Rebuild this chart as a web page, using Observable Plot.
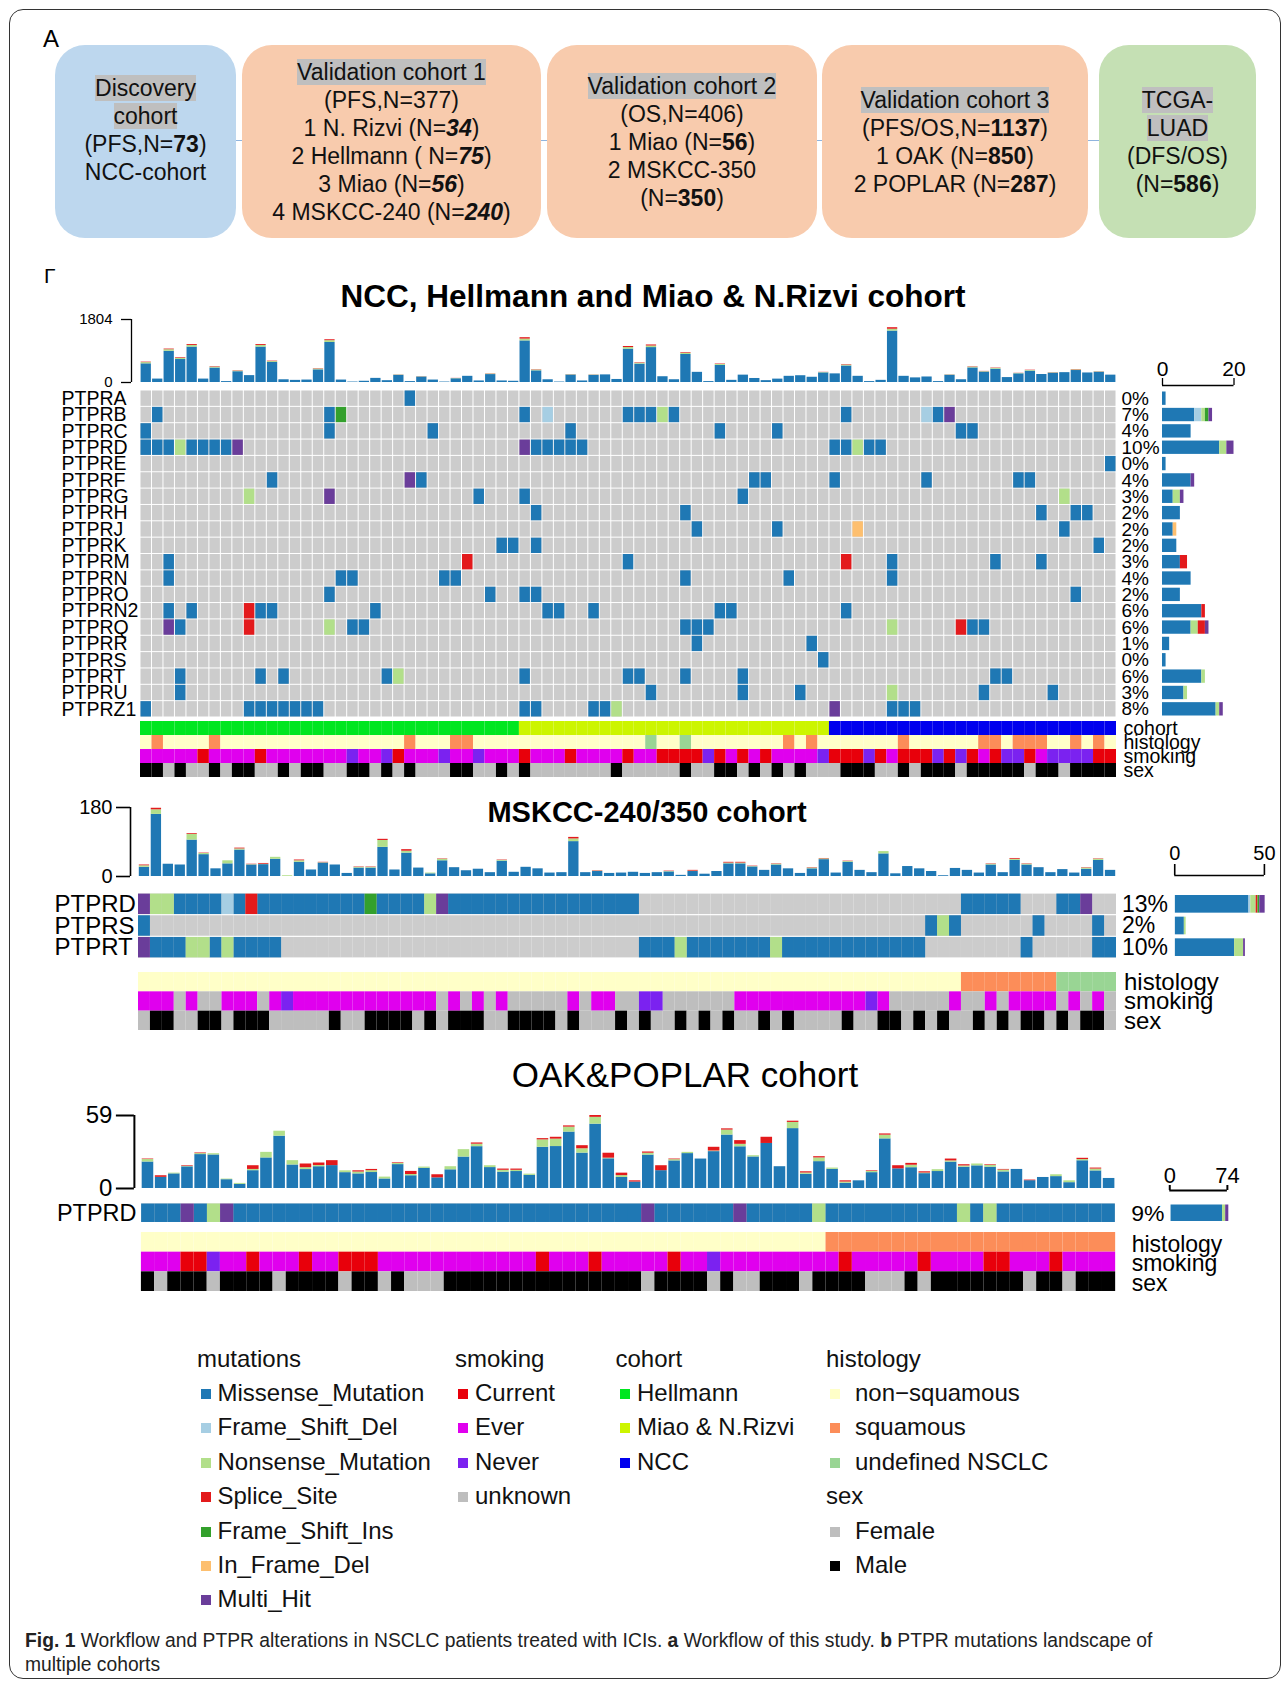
<!DOCTYPE html>
<html><head><meta charset="utf-8">
<script src="https://cdn.jsdelivr.net/npm/d3@7"></script>
<script src="https://cdn.jsdelivr.net/npm/@observablehq/plot@0.6"></script>
<style>
body{margin:0;background:#fff;}
#fig{position:relative;width:1287px;height:1683px;background:#fff;font-family:'Liberation Sans',Arial,Helvetica,sans-serif;color:#111;overflow:hidden}
.border{position:absolute;left:9px;top:9px;width:1272px;height:1670px;border:1.6px solid #333;border-radius:14px;box-sizing:border-box}
.conn{position:absolute;left:236px;top:140px;width:863px;border-top:1.5px solid #8fb4de}
.box{position:absolute;top:45px;height:193px;border-radius:30px;display:flex;flex-direction:column;justify-content:center;align-items:center;font-size:23px;line-height:28px;text-align:center;color:#111;box-sizing:border-box;white-space:nowrap}
.hl{background:#bfbfbf}
.lg{position:absolute;font-size:24px;line-height:28px;white-space:nowrap;color:#111}
.sq{position:absolute;width:10px;height:10px}
.cap{position:absolute;left:25px;top:1629px;font-size:19.3px;line-height:24px;color:#222;white-space:nowrap}
</style></head>
<body><div id="fig">
<div class="border"></div>
<div class="conn"></div>
<div class="box" style="left:55px;width:181px;background:#bdd7ee;padding-bottom:24px">
<div><span class="hl">Discovery</span></div><div><span class="hl">cohort</span></div><div>(PFS,N=<b>73</b>)</div><div>NCC-cohort</div></div>
<div class="box" style="left:242px;width:299px;background:#f8cbad">
<div><span class="hl">Validation cohort 1</span></div><div>(PFS,N=377)</div><div>1 N. Rizvi (N=<b><i>34</i></b>)</div><div>2 Hellmann ( N=<b><i>75</i></b>)</div><div>3 Miao (N=<b><i>56</i></b>)</div><div>4 MSKCC-240 (N=<b><i>240</i></b>)</div></div>
<div class="box" style="left:547px;width:270px;background:#f8cbad">
<div><span class="hl">Validation cohort 2</span></div><div>(OS,N=406)</div><div>1 Miao (N=<b>56</b>)</div><div>2 MSKCC-350</div><div>(N=<b>350</b>)</div></div>
<div class="box" style="left:822px;width:266px;background:#f8cbad">
<div><span class="hl">Validation cohort 3</span></div><div>(PFS/OS,N=<b>1137</b>)</div><div>1 OAK (N=<b>850</b>)</div><div>2 POPLAR (N=<b>287</b>)</div></div>
<div class="box" style="left:1099px;width:157px;background:#c5e0b4">
<div><span class="hl">TCGA-</span></div><div><span class="hl">LUAD</span></div><div>(DFS/OS)</div><div>(N=<b>586</b>)</div></div>
<div class="cap"><b>Fig. 1</b> Workflow and PTPR alterations in NSCLC patients treated with ICIs. <b>a</b> Workflow of this study. <b>b</b> PTPR mutations landscape of<br>multiple cohorts</div>
</div>
<script>
// ---------------- DATA ----------------
const mutTypes = ["Missense_Mutation","Frame_Shift_Del","Nonsense_Mutation","Splice_Site","Frame_Shift_Ins","In_Frame_Del","Multi_Hit"];
const mutCodes = ["M","D","N","S","I","F","H"];
const mutColors = ["#1f78b4","#a6cee3","#b2df8a","#e31a1c","#33a02c","#fdbf6f","#6a3d9a"];
const smokingCats = ["Current","Ever","Never","unknown"];
const smokingCodes = ["C","E","N","U"];
const smokingColors = ["#e8000b","#e000ee","#7b22f0","#bebebe"];
const cohortCats = ["Hellmann","Miao & N.Rizvi","NCC"];
const cohortColors = ["#00e620","#ccf500","#0000ee"];
const histCats = ["non\u2212squamous","squamous","undefined NSCLC"];
const histCodes = ["n","s","u"];
const histColors = ["#ffffc8","#fc8d59","#99d594"];
const sexCats = ["Female","Male"];
const sexCodes = ["f","m"];
const sexColors = ["#bebebe","#000000"];

// Cohort 1: NCC, Hellmann and Miao & N.Rizvi (85 samples)
const genes1 = ["PTPRA","PTPRB","PTPRC","PTPRD","PTPRE","PTPRF","PTPRG","PTPRH","PTPRJ","PTPRK","PTPRM","PTPRN","PTPRO","PTPRN2","PTPRQ","PTPRR","PTPRS","PTPRT","PTPRU","PTPRZ1"];
const muts1 = [
 "M:23",
 "M:1,16,33,42-44,46,61,69;D:35,68;N:45;I:17;H:70",
 "M:0,16,25,37,50,55,71,72",
 "M:0-2,4-7,34-38,60,61,63,64;N:3,62;H:8,33",
 "M:84",
 "M:11,24,53,54,60,68,76,77;H:23",
 "M:29,33,52;N:9,80;H:16",
 "M:34,47,78,81,82",
 "M:48,55,80;F:62",
 "M:31,32,34,83",
 "M:2,42,65,74,78;S:28,61",
 "M:2,17,18,26,27,47,56,65",
 "M:16,30,33,34,81",
 "M:2,4,10,11,20,35,36,39,50,51,61;S:9",
 "M:3,18,19,47-49,72,73;N:16,65;S:9,71;H:2",
 "M:48,58",
 "M:59",
 "M:3,10,12,21,33,42,43,47,52,74,75;N:22",
 "M:3,44,52,57,73,79;N:65",
 "M:0,9-15,33,34,39,40,65-67;N:41;H:60"
];
const pct1 = ["0%","7%","4%","10%","0%","4%","3%","2%","2%","2%","3%","4%","2%","6%","6%","1%","0%","6%","3%","8%"];
const tmbTotal1 = [583,98,957,711,1086,98,454,26,336,197,1086,612,78,61,70,395,1224,70,13,35,
 118,52,218,26,168,70,13,118,177,44,247,44,35,1283,365,78,13,227,44,218,
 218,87,1031,566,1075,165,79,855,291,26,529,62,211,115,53,97,177,194,150,291,
 247,512,177,26,62,1569,177,132,158,26,220,79,450,318,414,141,264,352,229,282,
 282,370,273,309,211];
const tmbTop1 = [[0,35,13],[2,45,18],[3,35,18],[4,45,26],[6,26,13],[8,18,9],[10,45,26],[11,26,13],[15,22,10],[16,52,26],[22,9,4],[24,7,4],[27,7,4],[30,13,7],[33,52,40],[34,22,9],[37,9,4],[39,9,4],[42,45,30],[43,26,13],[44,45,30],[47,35,18],[50,26,13],[59,10,5],[61,26,13],[65,52,44],[70,9,4],[72,22,10],[73,13,7],[74,22,10],[76,10,5],[77,18,9],[79,10,5],[81,18,9],[83,10,5]];
const cohort1 = [["Hellmann",33],["Miao & N.Rizvi",27],["NCC",25]];
const histology1 = "nsnnnnsnnn"+"nnnnnnnnnn"+"nnnsnnnssn"+"nnnnnnnnnn"+"nnnnunnunn"+"nnnnnnsnsn"+"nnnnnnsnnn"+"nnnssnsssn"+"nsnsn";
const smoking1 = "EEEEECEEEE"+"CEEEEEEENE"+"ENCEEENEEN"+"EEECEEECEE"+"EECEECCCCN"+"CECECEEEEN"+"CCCNCECCCN"+"CNCECNNCEN"+"NNNCC";
const sex1 = "mmfmffmfmm"+"ffmfmmffmm"+"fmfmfffmmf"+"fmfmffffff"+"fmfffffmff"+"mmfmfmfmff"+"fmmmffmfmm"+"mfmmmmmfmm"+"fmmmm";

// Cohort 2: MSKCC-240/350 (82 samples)
const genes2 = ["PTPRD","PTPRS","PTPRT"];
const muts2 = [
 "M:3-6,8,10-18,20-23,26-41,69-73,77,78;N:1,2,24;D:7;S:9;I:19;H:0,25,79",
 "M:0,66,68,75,80;N:67",
 "M:1-3,6,8-11,42-44,46-52,54-65,74,80,81;N:4,5,7,45,53;H:0"
];
const pct2 = ["13%","2%","10%"];
const tmbTotal2 = [30,178,32,30,112,61,20,41,74,32,34,50,2,43,17,37,30,8,25,25,
 97,17,70,22,9,46,23,15,19,10,43,11,24,20,9,10,102,10,15,8,
 9,11,8,10,14,3,16,6,13,37,37,27,16,33,20,8,23,47,9,40,
 16,10,65,7,26,20,13,2,21,16,9,33,10,47,33,23,10,18,9,23,46,16];
const tmbTop2 = [[0,4,2],[1,12,4],[4,15,2],[5,3,1],[7,8,0],[8,3,2],[9,1,1],[10,1,2],[11,5,0],[12,2,0],[13,4,2],[15,1,1],[18,2,1],[19,2,1],[20,18,3],[22,5,4],[24,2,0],[25,4,1],[30,2,1],[36,7,4],[38,1,1],[44,1,1],[46,1,2],[49,2,2],[50,2,2],[51,1,1],[53,2,1],[56,2,1],[57,2,1],[59,2,1],[62,6,0],[71,2,1],[73,3,2],[74,2,1],[79,3,1],[80,3,1]];
const histology2 = "nnnnnnnnnn"+"nnnnnnnnnn"+"nnnnnnnnnn"+"nnnnnnnnnn"+"nnnnnnnnnn"+"nnnnnnnnnn"+"nnnnnnnnn"+"ssssssss"+"uuuuu";
const smoking2 = "EEEUEUUEEE"+"UENEEEEEEE"+"EEEEEUEUEU"+"EUUUUUEUEE"+"UUNNUUUUUU"+"EEEEEEEEEE"+"ENEUUUUUEU"+"UEUEEEEUEU"+"EU";
const sex2 = "fmmffmmfmm"+"mfffffmffm"+"mmmfmfmmmf"+"fmmmmfmfff"+"mfmffmfmfm"+"ffmfmffffm"+"ffmmfmfmff"+"mfmfmmfmfm"+"mf";

// Cohort 3: OAK & POPLAR (74 samples)
const genes3 = ["PTPRD"];
const muts3 = ["M:0-2,4,7-37,39-44,46-50,52-61,63,65-73;N:5,51,62,64;H:3,6,38,45"];
const pct3 = ["9%"];
const tmbTotal3 = [23.8,10.3,12.4,18.4,28.7,28.1,7.6,4.1,18.4,29.2,46.3,22.5,19.8,20.6,22.5,14.3,14.3,15.4,9.2,20.8,
 13.8,17.3,11.1,17.6,31.4,36.8,18.4,15.7,15.7,11.6,40.3,41.4,50.6,34.6,59,28.5,12.4,6.2,29.5,18.4,
 23.8,29.2,23.8,33.3,48.2,38.7,26.5,41.4,17.6,54.4,13.5,25.7,16.5,6.2,6.2,14.3,44.1,18.4,20.3,13.5,
 15.2,23.8,19.2,19.8,19.2,15.4,15.4,6.8,8.9,11.1,6.2,24.4,16.5,8.1];
const tmbTop3 = [[0,2,0.4],[1,0,1.3],[2,0.6,0],[3,0.4,0.5],[4,0.8,0.5],[5,1,0],[6,0.5,0],[7,0.8,0],[8,1,3],[9,4.5,0],[10,4,0],[11,3.5,0],[12,1.5,3],[13,1,2],[14,0,4],[15,1.5,0],[16,1.5,1],[17,1.5,1],[18,1.5,0],[19,1,0.5],[20,1,2.5],[21,1,0],[22,0,2.5],[23,2.5,0],[24,6,0],[25,2,1],[26,1.5,0],[27,1.5,1],[28,1,1],[29,1,0],[30,6,1],[31,6,1.5],[32,4,1],[33,3.5,2.5],[34,5.5,1.5],[35,0.5,4],[36,1.5,2],[37,0,1],[38,1.5,1],[39,0,4],[40,1,0.5],[41,1,0],[43,0.5,3],[44,4,1],[45,2,3],[46,1,0],[47,0,5],[49,5,1],[50,1,1],[51,3,1],[52,1,0],[53,1,1],[55,1,0.5],[56,3,1],[57,0,2.5],[58,2,1.5],[59,0.5,1],[60,1.5,0],[61,1,1.5],[62,1,1],[63,1.5,0],[64,1.5,0.5],[65,1.5,0.5],[67,0,0.5],[69,1.5,0],[70,1.5,0],[71,1,1],[72,1.5,0.8]];
const histology3 = "nnnnnnnnnn"+"nnnnnnnnnn"+"nnnnnnnnnn"+"nnnnnnnnnn"+"nnnnnnnnnn"+"nn"+"ssssssssss"+"ssssssssss"+"ss";
const smoking3 = "EEECCNEECE"+"EECEECCCEE"+"EEEEEEEEEE"+"CEEECEEEEE"+"CEENEEEEEE"+"EEECEEEEEC"+"EEEECCEEEC"+"EEEE";
const sex3 = "mfmmmfmmmm"+"fmmmmfmmfm"+"fffmmmmmmm"+"mmmmmmmmfm"+"mmmfmffmmm"+"fmmmmfffmf"+"mmmmmmmfmm"+"fmmm";

// ---------------- HELPERS ----------------
const fig = document.getElementById("fig");
const FONT = "'Liberation Sans', Arial, Helvetica, sans-serif";
const STYLE = {background:"none", overflow:"visible", fontFamily: FONT, color:"#000"};
const mutColor = Object.fromEntries(mutCodes.map((c,i)=>[c, mutColors[i]]));
const annColor = {
  cohort: Object.fromEntries(cohortCats.map((c,i)=>[c, cohortColors[i]])),
  histology: Object.fromEntries(histCodes.map((c,i)=>[c, histColors[i]])),
  smoking: Object.fromEntries(smokingCodes.map((c,i)=>[c, smokingColors[i]])),
  sex: Object.fromEntries(sexCodes.map((c,i)=>[c, sexColors[i]]))
};
function place(el, top){ el.style.position="absolute"; el.style.left="0px"; el.style.top=top+"px"; fig.appendChild(el); }
function parseMuts(str){
  const out=[];
  for(const part of str.split(";")){ if(!part) continue; const [code,list]=part.split(":");
    for(const tok of list.split(",")){ const [a,b]=tok.split("-").map(Number); for(let i=a;i<=(isNaN(b)?a:b);i++) out.push({i,code}); } }
  return out;
}
function expandRuns(runs){ const out=[]; runs.forEach(([v,n])=>{ for(let k=0;k<n;k++) out.push(v); }); return out; }

function onco(d, g){
  const N = d.N;
  // TMB stacked bars
  const tmbRows=[];
  d.tmbTotal.forEach((v,i)=>{ const t=d.tmbTop.find(r=>r[0]===i)||[i,0,0];
    tmbRows.push({i,code:"M",v:Math.max(0,v-t[1]-t[2])},{i,code:"N",v:t[1]},{i,code:"S",v:t[2]}); });
  place(Plot.plot({
    width:g.xR, height:g.tmb[1]-g.tmb[0], marginLeft:g.xL, marginRight:0, marginTop:0, marginBottom:0,
    style:STYLE, x:{domain:[0,N], axis:null}, y:{domain:[0,d.tmbMax], axis:null}, color:{type:"identity"},
    marks:[
      Plot.rectY(tmbRows,{x1:"i", x2:r=>r.i+1, y:"v", fill:r=>mutColor[r.code], insetLeft:g.barInset, insetRight:g.barInset}),
      Plot.ruleX([0],{dx:-g.spine, stroke:"#000", strokeWidth:g.axW}),
      Plot.axisY({ticks:[0,d.tmbMax], tickSize:g.tick, dx:-g.spine, tickPadding:g.tmbPad, fontSize:g.tmbFs, tickFormat:v=>String(v), strokeWidth:g.axW, stroke:"#000", label:null})
    ]}), g.tmb[0]);

  // mutation grid
  const bg=[], cells=[];
  d.genes.forEach((gene,k)=>{ for(let i=0;i<N;i++) bg.push({gene,i});
    parseMuts(d.muts[k]).forEach(m=>cells.push({gene,i:m.i,code:m.code})); });
  place(Plot.plot({
    width:g.xR, height:g.grid[1]-g.grid[0], marginLeft:g.xL, marginRight:0, marginTop:0, marginBottom:0,
    style:STYLE,
    x:{type:"band", domain:d3.range(N), padding:0, round:false, axis:null},
    y:{type:"band", domain:d.genes, padding:0, round:false, axis:null},
    color:{type:"identity"},
    marks:[
      Plot.cell(bg,{x:"i", y:"gene", fill:"#cccccc", insetLeft:g.cellX, insetRight:g.cellX, insetTop:g.cellY, insetBottom:g.cellY}),
      Plot.cell(cells,{x:"i", y:"gene", fill:r=>mutColor[r.code], insetLeft:g.cellX, insetRight:g.cellX, insetTop:g.cellY, insetBottom:g.cellY}),
      Plot.text(d.genes,{y:v=>v, text:v=>v, frameAnchor:"left", textAnchor:"start", dx:g.geneX-g.xL, fontSize:g.geneFs}),
      Plot.text(d.genes.map((gene,k)=>({gene,p:d.pct[k]})),{y:"gene", text:"p", frameAnchor:"right", textAnchor:"start", dx:g.pctDx, fontSize:g.pctFs})
    ]}), g.grid[0]);

  // right bar chart
  const counts=[];
  d.genes.forEach(gene=>{ mutCodes.forEach(code=>{ const n=cells.filter(c=>c.gene===gene&&c.code===code).length; if(n>0) counts.push({gene,code,n}); }); });
  place(Plot.plot({
    width:g.rb[1], height:g.grid[1]-g.grid[0], marginLeft:g.rb[0], marginRight:0, marginTop:0, marginBottom:0,
    style:STYLE, x:{domain:[0,d.axMax], axis:null},
    y:{type:"band", domain:d.genes, padding:0, round:false, axis:null}, color:{type:"identity"},
    marks:[Plot.barX(counts,{y:"gene", x:"n", fill:r=>mutColor[r.code], insetTop:g.rbInset, insetBottom:g.rbInset})]
  }), g.grid[0]);

  // right axis
  place(Plot.plot({
    width:g.rb[1], height:g.axY[1]-g.axY[0], marginLeft:g.rb[0], marginRight:0, marginTop:0, marginBottom:0,
    style:STYLE, x:{domain:[0,d.axMax], axis:null}, y:{domain:[0,1], axis:null},
    marks:[
      Plot.ruleY([0],{stroke:"#000", strokeWidth:g.axW}),
      Plot.ruleX([0,d.axMax],{stroke:"#000", strokeWidth:g.axW}),
      Plot.text([0,d.axMax],{x:v=>v, text:v=>String(v), frameAnchor:"top", lineAnchor:"bottom", dy:-g.axLab, fontSize:g.rbFs})
    ]}), g.axY[0]);

  // annotation tracks
  const ann=[];
  d.ann.forEach(([name,vals])=>{ vals.forEach((v,i)=>ann.push({name,i,color:annColor[name][v]})); });
  const annNames=d.ann.map(a=>a[0]);
  place(Plot.plot({
    width:g.xR, height:g.ann[1]-g.ann[0], marginLeft:g.xL, marginRight:0, marginTop:0, marginBottom:0,
    style:STYLE,
    x:{type:"band", domain:d3.range(N), padding:0, round:false, axis:null},
    y:{type:"band", domain:annNames, padding:0, round:false, axis:null}, color:{type:"identity"},
    marks:[
      Plot.cell(ann,{x:"i", y:"name", fill:"color"}),
      Plot.text(annNames,{y:v=>v, text:v=>v, frameAnchor:"right", textAnchor:"start", dx:g.annDx, dy:g.annDy, fontSize:g.annFs})
    ]}), g.ann[0]);
}

// ---------------- DRAW ----------------
onco({N:85, genes:genes1, muts:muts1, pct:pct1, tmbTotal:tmbTotal1, tmbTop:tmbTop1, tmbMax:1804, axMax:20,
  ann:[["cohort",expandRuns(cohort1)],["histology",[...histology1]],["smoking",[...smoking1]],["sex",[...sex1]]]},
 {xL:140, xR:1116, tmb:[319,382], grid:[390,717], ann:[721,777], rb:[1162,1233.5], axY:[378,385],
  spine:9, tick:10, axW:1.3, tmbFs:15, tmbPad:9, geneX:61, geneFs:19.5, pctDx:5, pctFs:19, annFs:19.5, annDx:7, annDy:0, rbFs:21, axLab:3,
  cellX:0.5, cellY:0.5, rbInset:1.5, barInset:0.6});

onco({N:82, genes:genes2, muts:muts2, pct:pct2, tmbTotal:tmbTotal2, tmbTop:tmbTop2, tmbMax:180, axMax:50,
  ann:[["histology",[...histology2]],["smoking",[...smoking2]],["sex",[...sex2]]]},
 {xL:138, xR:1116, tmb:[807,876], grid:[893,958], ann:[972,1030], rb:[1175,1264.8], axY:[864,875],
  spine:8, tick:14, axW:1.6, tmbFs:20, tmbPad:4, geneX:54, geneFs:24, pctDx:5.5, pctFs:23, annFs:24, annDx:7.5, annDy:0, rbFs:20, axLab:5,
  cellX:0, cellY:0.6, rbInset:2, barInset:0.8});

onco({N:74, genes:genes3, muts:muts3, pct:pct3, tmbTotal:tmbTotal3, tmbTop:tmbTop3, tmbMax:59, axMax:74,
  ann:[["histology",[...histology3]],["smoking",[...smoking3]],["sex",[...sex3]]]},
 {xL:140.8, xR:1115.3, tmb:[1115,1188], grid:[1203,1222.5], ann:[1232,1291], rb:[1171,1228.8], axY:[1185,1190],
  spine:7, tick:18, axW:2, tmbFs:24, tmbPad:4, geneX:56, geneFs:23.5, pctDx:16, pctFs:23, annFs:23, annDx:16, annDy:2, rbFs:22, axLab:3,
  cellX:0, cellY:0.5, rbInset:1.5, barInset:0.8});

// titles and panel letters
const ov = d3.create("svg").attr("width",1287).attr("height",1683)
  .style("position","absolute").style("left","0px").style("top","0px").style("pointer-events","none")
  .style("font-family",FONT);
ov.append("text").attr("x",43).attr("y",47).attr("font-size",24).text("A");
ov.append("text").attr("x",44).attr("y",283).attr("font-size",21).text("\u0393");
ov.append("text").attr("x",653).attr("y",307).attr("text-anchor","middle").attr("font-size",31.5).attr("font-weight","bold").text("NCC, Hellmann and Miao & N.Rizvi cohort");
ov.append("text").attr("x",647).attr("y",822).attr("text-anchor","middle").attr("font-size",29).attr("font-weight","bold").text("MSKCC-240/350 cohort");
ov.append("text").attr("x",685).attr("y",1087).attr("text-anchor","middle").attr("font-size",35).text("OAK&POPLAR cohort");
fig.appendChild(ov.node());

// legend
const legendCols = [
  {title:"mutations", x:197, sqx:201, lx:217.5, items:mutTypes.map((t,i)=>[t,mutColors[i]])},
  {title:"smoking", x:455, sqx:458, lx:475, items:smokingCats.map((t,i)=>[t,smokingColors[i]])},
  {title:"cohort", x:615.5, sqx:620, lx:637, items:cohortCats.map((t,i)=>[t,cohortColors[i]])},
  {title:"histology", x:826, sqx:830, lx:855, items:[...histCats.map((t,i)=>[t,histColors[i]]), ["sex",null], ...sexCats.map((t,i)=>[t,sexColors[i]])]}
];
function addText(txt,x,cy){ const el=document.createElement("div"); el.className="lg"; el.style.left=x+"px"; el.style.top=(cy-14)+"px"; el.textContent=txt; fig.appendChild(el); }
legendCols.forEach(col=>{
  addText(col.title, col.x, 1359);
  col.items.forEach(([t,c],k)=>{ const cy=1393+34.4*k;
    if(c===null){ addText(t, col.x, cy); return; }
    const sq=document.createElement("div"); sq.className="sq"; sq.style.left=col.sqx+"px"; sq.style.top=(cy-4)+"px"; sq.style.background=c; fig.appendChild(sq);
    addText(t, col.lx, cy); });
});
</script>
</body></html>
